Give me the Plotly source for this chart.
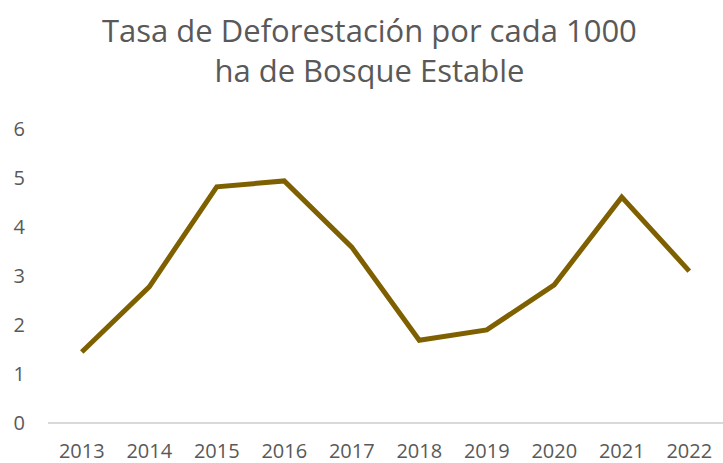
import plotly.graph_objects as go

years = ["2013", "2014", "2015", "2016", "2017", "2018", "2019", "2020", "2021", "2022"]
tasa = [1.45, 2.78, 4.82, 4.94, 3.59, 1.69, 1.90, 2.82, 4.61, 3.10]
y_ticks = [0, 1, 2, 3, 4, 5, 6]
title_text = "Tasa de Deforestación por cada 1000<br>ha de Bosque Estable"

FONT = "Open Sans, Lato, sans-serif"

fig = go.Figure()
fig.add_trace(go.Scatter(
    x=years, y=tasa, mode="lines",
    line=dict(color="#7F6000", width=5),
    hoverinfo="x+y",
))

fig.add_annotation(
    text=title_text, xref="paper", yref="paper",
    x=0.477, y=1.415, xanchor="center", yanchor="top",
    showarrow=False, align="center",
    font=dict(size=31, color="#595959", family=FONT),
)

fig.update_layout(
    width=723, height=463,
    margin=dict(l=48, r=0, t=129, b=40, autoexpand=False),
    paper_bgcolor="white", plot_bgcolor="white",
    showlegend=False,
    font=dict(family=FONT, color="#595959"),
    xaxis=dict(
        type="category", range=[-0.5, 9.5], automargin=False,
        showgrid=False, zeroline=False, showline=False,
        ticks="", tickfont=dict(size=20, color="#595959"),
        ticklabelstandoff=14,
    ),
    yaxis=dict(
        range=[0, 6], tickvals=y_ticks, showgrid=False, automargin=False,
        zeroline=True, zerolinecolor="#D9D9D9", zerolinewidth=1.5,
        showline=False, ticks="", tickfont=dict(size=20, color="#595959"),
        ticklabelstandoff=22,
    ),
)

fig.write_html("out.html", config={"displayModeBar": False},
               post_script="document.body.style.margin='0';")
